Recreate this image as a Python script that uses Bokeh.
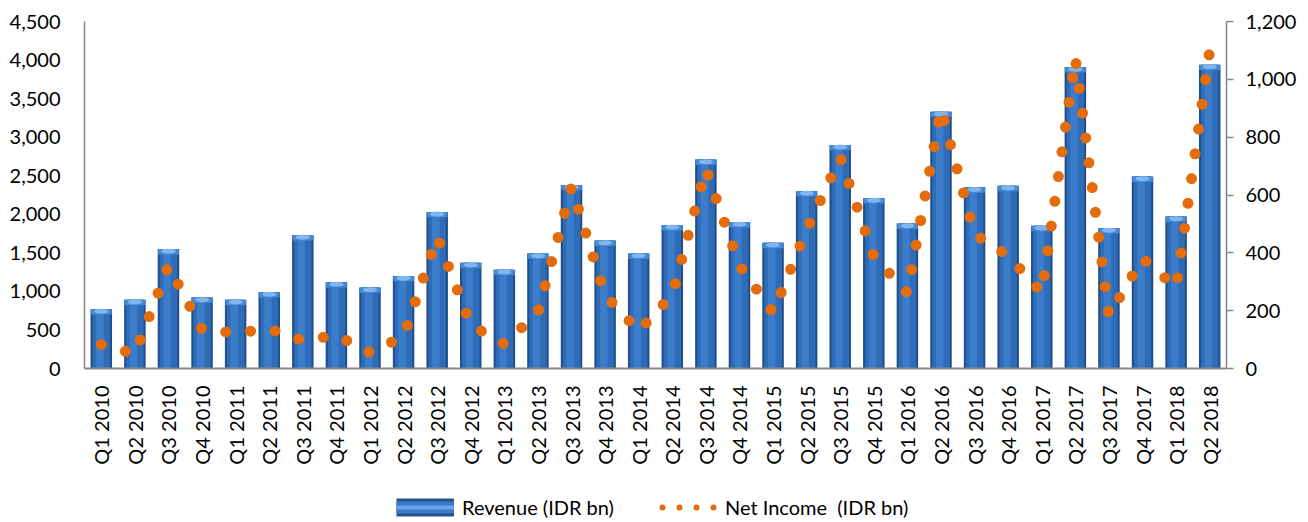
import math
from bokeh.plotting import figure
from bokeh.layouts import column
from bokeh.models import (FactorRange, Range1d, LinearAxis, SingleIntervalTicker,
                          NumeralTickFormatter, Legend, LegendItem, ColumnDataSource)
from bokeh.transform import dodge
from bokeh.embed import file_html
from bokeh.resources import INLINE

quarters = ["Q1 2010", "Q2 2010", "Q3 2010", "Q4 2010",
            "Q1 2011", "Q2 2011", "Q3 2011", "Q4 2011",
            "Q1 2012", "Q2 2012", "Q3 2012", "Q4 2012",
            "Q1 2013", "Q2 2013", "Q3 2013", "Q4 2013",
            "Q1 2014", "Q2 2014", "Q3 2014", "Q4 2014",
            "Q1 2015", "Q2 2015", "Q3 2015", "Q4 2015",
            "Q1 2016", "Q2 2016", "Q3 2016", "Q4 2016",
            "Q1 2017", "Q2 2017", "Q3 2017", "Q4 2017",
            "Q1 2018", "Q2 2018"]

revenue = [770, 890, 1550, 920,
           890, 990, 1730, 1120,
           1050, 1200, 2030, 1370,
           1280, 1490, 2380, 1660,
           1490, 1860, 2710, 1900,
           1630, 2300, 2900, 2210,
           1880, 3330, 2350, 2370,
           1850, 3910, 1820, 2490,
           1970, 3940]

net_income = [83, 50, 355, 135,
              123, 137, 97, 115,
              55, 111, 455, 150,
              85, 194, 627, 254,
              130, 255, 690, 356,
              194, 479, 730, 387,
              262, 897, 464, 390,
              262, 1073, 183, 381,
              280, 1100]

rev_label = "Revenue (IDR bn)"
ni_label = "Net Income  (IDR bn)"

FONT = "Lato"
GREY = "#868686"
ORANGE = "#E46C0A"

src = ColumnDataSource(dict(q=quarters, rev=revenue, ni=net_income))

p = figure(width=1300, height=490,
           x_range=FactorRange(factors=quarters, range_padding=0),
           y_range=Range1d(0, 4500),
           output_backend="svg", toolbar_location=None,
           min_border_left=84, min_border_right=74,
           min_border_top=21, min_border_bottom=122)
p.outline_line_color = None
p.xgrid.visible = False
p.ygrid.visible = False
p.background_fill_color = "white"
p.border_fill_color = "white"

p.extra_y_ranges = {"ni": Range1d(0, 1200)}

# bars (cylinder-like look with layered shades)
p.vbar(x="q", top="rev", bottom=0, width=0.64, source=src,
       fill_color="#1F4E8A", line_color=None)
p.vbar(x="q", top="rev", bottom=0, width=0.52, source=src,
       fill_color="#2F6CB7", line_color=None)
p.vbar(x=dodge("q", -0.04, range=p.x_range), top="rev", bottom=0, width=0.22,
       source=src, fill_color="#3B7DCA", line_color=None)
p.vbar(x="q", top="rev", bottom=dodge("rev", -70, range=p.y_range), width=0.62,
       source=src, fill_color="#4488D6", line_color=None)
p.ellipse(x="q", y=dodge("rev", -28, range=p.y_range), width=0.42, height=5,
          height_units="screen", source=src, fill_color="#80B6EF", line_color=None)

# net income dotted line
p.line(x="q", y="ni", y_range_name="ni", source=src, line_color=ORANGE,
       line_width=11, line_dash="0 25", line_cap="round")

# axes
ly = p.yaxis[0]
ly.ticker = SingleIntervalTicker(interval=500)
ly.formatter = NumeralTickFormatter(format="0,0")
ly.major_tick_out = 0
ly.major_tick_in = 0
ly.minor_tick_line_color = None
ly.major_tick_line_color = None
ly.axis_line_color = GREY
ly.axis_line_width = 1.5
ly.major_label_standoff = 20
ly.major_label_text_font = FONT
ly.major_label_text_font_size = "20px"
ly.major_label_text_color = "#000000"

ry = LinearAxis(y_range_name="ni")
ry.ticker = SingleIntervalTicker(interval=200)
ry.formatter = NumeralTickFormatter(format="0,0")
ry.major_tick_out = 7
ry.major_tick_in = 0
ry.major_tick_line_color = GREY
ry.major_tick_line_width = 1.5
ry.minor_tick_line_color = None
ry.axis_line_color = GREY
ry.axis_line_width = 1.5
ry.major_label_standoff = 12
ry.major_label_text_font = FONT
ry.major_label_text_font_size = "20px"
ry.major_label_text_color = "#000000"
p.add_layout(ry, "right")

bx = p.xaxis[0]
bx.major_tick_out = 0
bx.major_tick_in = 0
bx.major_tick_line_color = None
bx.axis_line_color = GREY
bx.axis_line_width = 2
bx.major_label_orientation = math.pi / 2
bx.major_label_standoff = 17
bx.major_label_text_font = FONT
bx.major_label_text_font_size = "20px"
bx.major_label_text_color = "#000000"

# legend strip (separate small figure holding only legend glyphs)
lf = figure(width=1300, height=32, x_range=Range1d(0, 1), y_range=Range1d(0, 1),
            output_backend="svg", toolbar_location=None,
            min_border_left=0, min_border_right=0, min_border_top=0, min_border_bottom=0)
lf.axis.visible = False
lf.grid.visible = False
lf.outline_line_color = None
lf.background_fill_color = "white"
lf.border_fill_color = "white"

nan = float("nan")
lsrc = ColumnDataSource(dict(x=[nan], y=[nan]))
lg_rev_a = lf.line(x="x", y="y", source=lsrc, line_color="#24528F", line_width=18, line_cap="butt")
lg_rev_b = lf.line(x="x", y="y", source=lsrc, line_color="#3A7AC6", line_width=12, line_cap="butt")
lg_rev_c = lf.line(x="x", y="y", source=lsrc, line_color="#6AA4E6", line_width=4, line_cap="butt")
lg_ni = lf.line(x="x", y="y", source=lsrc, line_color=ORANGE, line_width=6,
                line_dash="0 17", line_dash_offset=14, line_cap="round")

leg = Legend(items=[LegendItem(label=rev_label, renderers=[lg_rev_a, lg_rev_b, lg_rev_c]),
                    LegendItem(label=ni_label, renderers=[lg_ni])],
             location=(312, 3), orientation="horizontal",
             glyph_width=58, glyph_height=20, label_standoff=8, spacing=45,
             padding=0, margin=0, border_line_color=None, background_fill_alpha=0,
             label_text_font=FONT, label_text_font_size="20px",
             label_text_color="#000000")
lf.add_layout(leg)

layout = column(p, lf, spacing=0)
open("out.html", "w").write(file_html(layout, INLINE))
